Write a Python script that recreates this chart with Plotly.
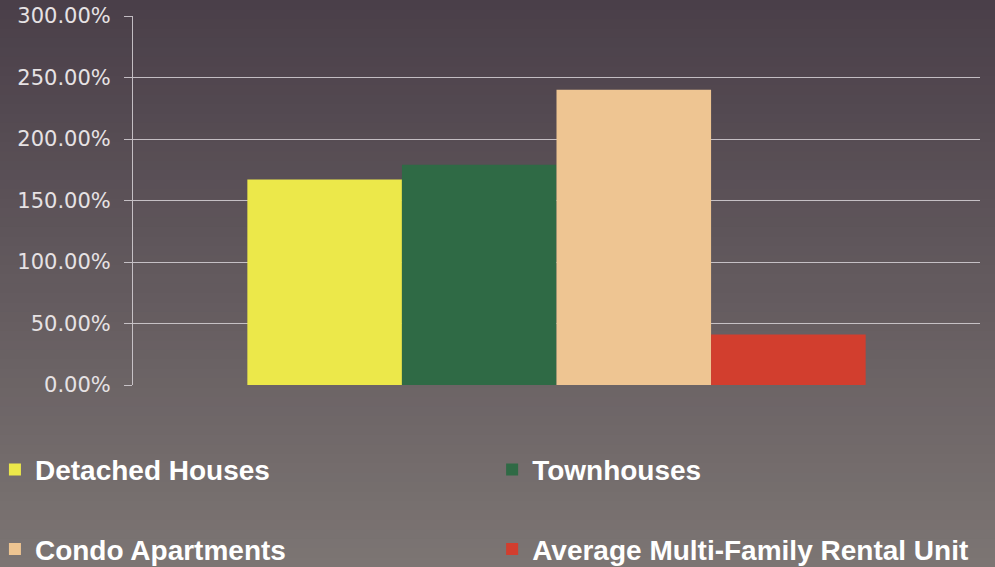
import plotly.graph_objects as go

categories = ["Detached Houses", "Townhouses", "Condo Apartments", "Average Multi-Family Rental Unit"]
values = [1.67, 1.79, 2.40, 0.41]
colors = ["#ECE84A", "#2F6A45", "#EEC592", "#D23E2E"]
legend_ids = ["legend", "legend2", "legend3", "legend4"]
tick_vals = [0, 0.5, 1.0, 1.5, 2.0, 2.5, 3.0]
tick_text = ["0.00%", "50.00%", "100.00%", "150.00%", "200.00%", "250.00%", "300.00%"]

fig = go.Figure()
for name, v, c, lg in zip(categories, values, colors, legend_ids):
    fig.add_trace(go.Bar(x=["Change"], y=[v], name=name, marker=dict(color=c, line=dict(width=0)),
                         legend=lg))

# background gradient (photo of slide)
W, H = 995, 567
ml, mr, mt, mb = 133, 15, 16, 182
pw, ph = W - ml - mr, H - mt - mb
top = (74, 63, 73)
bot = (124, 117, 115)
n = 60
shapes = []
for i in range(n):
    t = i / (n - 1)
    col = tuple(int(round(top[k] + (bot[k] - top[k]) * t)) for k in range(3))
    y0px = H * i / n
    y1px = H * (i + 1) / n + 1
    shapes.append(dict(type="rect", xref="paper", yref="paper",
                       x0=-ml / pw - 0.01, x1=1 + mr / pw + 0.01,
                       y0=1 + (mt - y1px) / ph, y1=1 + (mt - y0px) / ph,
                       fillcolor="rgb(%d,%d,%d)" % col, line=dict(width=0), layer="below"))

legend_font = dict(family="Liberation Sans Narrow, Arial Narrow, Liberation Sans, Arial", size=28, color="#ffffff", weight="bold")

def leg(x, y):
    return dict(orientation="v", x=x, xanchor="left", y=y, yanchor="middle",
                font=legend_font, bgcolor="rgba(0,0,0,0)", itemsizing="constant")

fig.update_layout(
    width=W, height=H,
    margin=dict(l=ml, r=mr, t=mt, b=mb, autoexpand=False),
    paper_bgcolor="rgb(100,92,96)",
    plot_bgcolor="rgba(0,0,0,0)",
    shapes=shapes,
    barmode="group",
    bargap=0.27,
    bargroupgap=0,
    showlegend=True,
    legend=leg(-0.163, -0.23),
    legend2=leg(0.424, -0.23),
    legend3=leg(-0.163, -0.445),
    legend4=leg(0.424, -0.445),
    xaxis=dict(showticklabels=False, showgrid=False, zeroline=False, showline=False, ticks=""),
    yaxis=dict(range=[0, 3.0], tickvals=tick_vals, ticktext=tick_text,
               showgrid=True, gridcolor="rgba(215,210,215,0.85)", gridwidth=1,
               zeroline=False, showline=True, linecolor="rgba(215,210,215,0.85)", linewidth=1,
               ticks="outside", ticklen=8, tickcolor="rgba(215,210,215,0.85)",
               tickfont=dict(family="DejaVu Sans, Verdana", size=21, color="#e6e2e4"),
               ticklabelstandoff=9),
)

fig.write_html("out.html", config={"displayModeBar": False},
               post_script="document.body.style.margin='0';document.body.style.padding='0';document.documentElement.style.overflow='hidden';")
